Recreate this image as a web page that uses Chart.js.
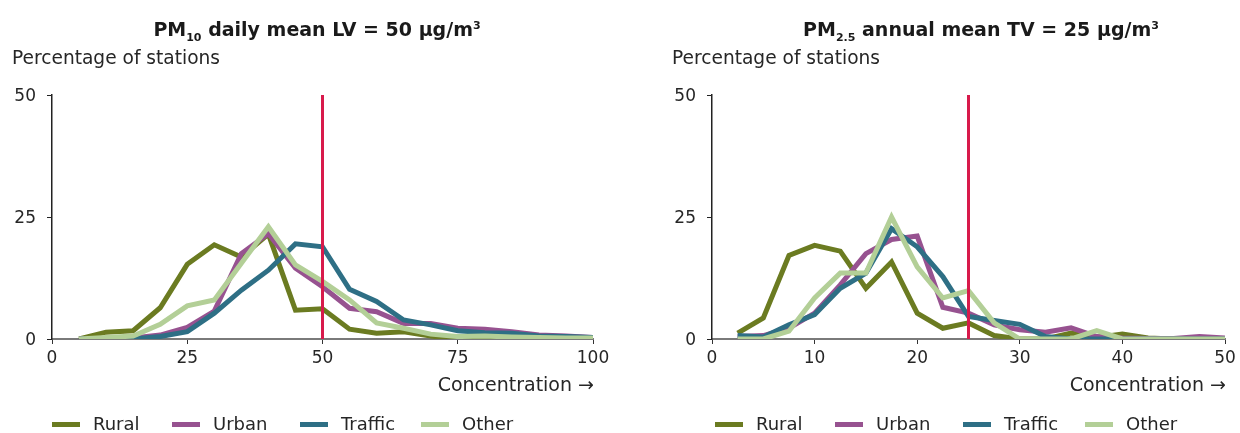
<!DOCTYPE html>
<html>
<head>
<meta charset="utf-8">
<script src="https://cdn.jsdelivr.net/npm/chart.js@4.4.1/dist/chart.umd.min.js"></script>
<style>
  html, body { margin: 0; padding: 0; background: #fff; }
  #wrap { position: relative; width: 1240px; height: 433px; overflow: hidden;
          font-family: "DejaVu Sans", Verdana, sans-serif; color: #262626; }
  canvas { position: absolute; top: 0; }
  .title { position: absolute; top: 20px; font-weight: bold; font-size: 19px; line-height: 19px;
           white-space: nowrap; transform: translateX(-50%); color: #1a1a1a; }
  .title sub { font-size: 11px; vertical-align: -5px; line-height: 0; }
  .title sup { font-size: 11px; vertical-align: 7px; line-height: 0; }
  .ylab { position: absolute; top: 48px; font-size: 18.6px; line-height: 19px; white-space: nowrap; }
  .xlab { position: absolute; top: 375px; font-size: 19px; line-height: 19px; white-space: nowrap;
          transform: translateX(-100%); }
  .leg { position: absolute; top: 415px; height: 18px; font-size: 18px; line-height: 18px; white-space: nowrap; }
  .leg i { position: absolute; left: 0; top: 7px; width: 28px; height: 5px; }
  .leg span { position: absolute; left: 41px; top: 0; }
</style>
</head>
<body>
<div id="wrap">
  <canvas id="pm10" width="620" height="433" style="left:0"></canvas>
  <canvas id="pm25" width="620" height="433" style="left:620px"></canvas>

  <div class="title" style="left:317px">PM<sub>10</sub> daily mean LV = 50 µg/m<sup>3</sup></div>
  <div class="title" style="left:981px">PM<sub>2.5</sub> annual mean TV = 25 µg/m<sup>3</sup></div>

  <div class="ylab" style="left:12px">Percentage of stations</div>
  <div class="ylab" style="left:672px">Percentage of stations</div>

  <div class="xlab" style="left:594px">Concentration →</div>
  <div class="xlab" style="left:1226px">Concentration →</div>

  <div id="legend10"></div>
  <div id="legend25"></div>
</div>

<script>
// Station types and their line colours
const stationTypes = ["Rural", "Urban", "Traffic", "Other"];
const typeColors = ["#6b7b21", "#975290", "#2e6f85", "#b3cf97"];
const limitColor = "#d81a4b";

// PM10 daily mean concentration classes (µg/m³) and share of stations (%)
const pm10Bins = [5, 10, 15, 20, 25, 30, 35, 40, 45, 50, 55, 60, 65, 70, 75, 80, 85, 90, 95, 100];
const pm10Rural   = [0, 1.4, 1.7, 6.4, 15.3, 19.3, 16.8, 21.5, 5.9, 6.2, 2.0, 1.2, 1.5, 0.6, 0, 0.5, 0.2, 0.3, 0.1, 0];
const pm10Urban   = [0, 0.1, 0.2, 0.8, 2.4, 5.7, 17.5, 21.6, 14.5, 10.7, 6.3, 5.6, 3.2, 3.2, 2.2, 2.0, 1.5, 0.8, 0.6, 0.3];
const pm10Traffic = [0, 0, 0, 0.5, 1.5, 5.3, 10.0, 14.1, 19.5, 18.9, 10.2, 7.7, 3.9, 2.9, 1.7, 1.3, 1.2, 0.6, 0.5, 0.3];
const pm10Other   = [0, 0.3, 0.6, 3.0, 6.8, 8.0, 15.5, 23.0, 15.2, 11.8, 8.0, 3.3, 2.2, 1.0, 0.5, 0.6, 0.4, 0.3, 0.2, 0.2];
const pm10Limit = 50;
const pm10Ticks = [0, 25, 50, 75, 100];

// PM2.5 annual mean concentration classes (µg/m³) and share of stations (%)
const pm25Bins = [2.5, 5, 7.5, 10, 12.5, 15, 17.5, 20, 22.5, 25, 27.5, 30, 32.5, 35, 37.5, 40, 42.5, 45, 47.5, 50];
const pm25Rural   = [1.2, 4.3, 17.1, 19.2, 18.0, 10.4, 15.8, 5.3, 2.2, 3.3, 0.7, 0, 0, 1.2, 0.3, 1.0, 0.2, 0, 0, 0];
const pm25Urban   = [0.5, 0.7, 2.2, 5.3, 11.1, 17.5, 20.4, 21.1, 6.5, 5.3, 2.9, 1.9, 1.4, 2.3, 0.5, 0.2, 0.1, 0.1, 0.5, 0.2];
const pm25Traffic = [0.7, 0.4, 2.9, 5.0, 10.4, 13.5, 22.6, 18.9, 12.8, 4.6, 3.8, 3.0, 0.5, 0, 0, 0, 0, 0, 0, 0];
const pm25Other   = [0, 0, 1.6, 8.4, 13.5, 13.5, 25.0, 14.8, 8.4, 9.9, 3.3, 0, 0, 0, 1.7, 0, 0, 0, 0, 0];
const pm25Limit = 25;
const pm25Ticks = [0, 10, 20, 30, 40, 50];

const shareTicks = [0, 25, 50];

function toPoints(xs, ys) {
  return xs.map((x, i) => ({ x: x, y: ys[i] }));
}

function buildChart(canvasId, bins, seriesList, limit, xTicks, yAxisWidth, rightPad) {
  const datasets = seriesList.map((vals, i) => ({
    label: stationTypes[i],
    data: toPoints(bins, vals),
    borderColor: typeColors[i],
    backgroundColor: typeColors[i],
    borderWidth: 5,
    pointRadius: 0,
    tension: 0,
    borderJoinStyle: "miter",
    borderCapStyle: "butt",
    order: 4 - i
  }));
  // limit / target value marker
  datasets.push({
    label: "limit",
    data: [{ x: limit, y: shareTicks[0] }, { x: limit, y: shareTicks[shareTicks.length - 1] }],
    borderColor: limitColor,
    borderWidth: 3,
    pointRadius: 0,
    order: 0
  });

  const tickFont = { family: "'DejaVu Sans', Verdana, sans-serif", size: 17 };

  return new Chart(document.getElementById(canvasId), {
    type: "line",
    data: { datasets: datasets },
    options: {
      responsive: false,
      animation: false,
      events: [],
      layout: { padding: { top: 95, right: rightPad, bottom: 64, left: 0 } },
      plugins: { legend: { display: false }, tooltip: { enabled: false }, title: { display: false } },
      scales: {
        x: {
          type: "linear",
          min: xTicks[0],
          max: xTicks[xTicks.length - 1],
          afterBuildTicks: (s) => { s.ticks = xTicks.map(v => ({ value: v })); },
          afterFit: (s) => { s.height = 30; },
          grid: { drawOnChartArea: false, drawTicks: true, tickLength: 5, color: "#333", lineWidth: 1 },
          border: { display: true, color: "#7a7a7a", width: 2 },
          ticks: { color: "#262626", font: tickFont, padding: 4, maxRotation: 0 }
        },
        y: {
          type: "linear",
          min: shareTicks[0],
          max: shareTicks[shareTicks.length - 1],
          afterBuildTicks: (s) => { s.ticks = shareTicks.map(v => ({ value: v })); },
          afterFit: (s) => { s.width = yAxisWidth; },
          grid: { drawOnChartArea: false, drawTicks: true, tickLength: 5, color: "#222", lineWidth: 1 },
          border: { display: true, color: "#222", width: 1.5 },
          ticks: { color: "#262626", font: tickFont, padding: 11, labelOffset: 2 }
        }
      }
    }
  });
}

buildChart("pm10", pm10Bins, [pm10Rural, pm10Urban, pm10Traffic, pm10Other], pm10Limit, pm10Ticks, 52, 27);
buildChart("pm25", pm25Bins, [pm25Rural, pm25Urban, pm25Traffic, pm25Other], pm25Limit, pm25Ticks, 92, 15);

// Legends below each panel
function buildLegend(hostId, starts) {
  const host = document.getElementById(hostId);
  stationTypes.forEach((name, i) => {
    const item = document.createElement("div");
    item.className = "leg";
    item.style.left = starts[i] + "px";
    const swatch = document.createElement("i");
    swatch.style.background = typeColors[i];
    const text = document.createElement("span");
    text.textContent = name;
    item.appendChild(swatch);
    item.appendChild(text);
    host.appendChild(item);
  });
}
buildLegend("legend10", [52, 172, 300, 421]);
buildLegend("legend25", [715, 835, 963, 1085]);
</script>
</body>
</html>
